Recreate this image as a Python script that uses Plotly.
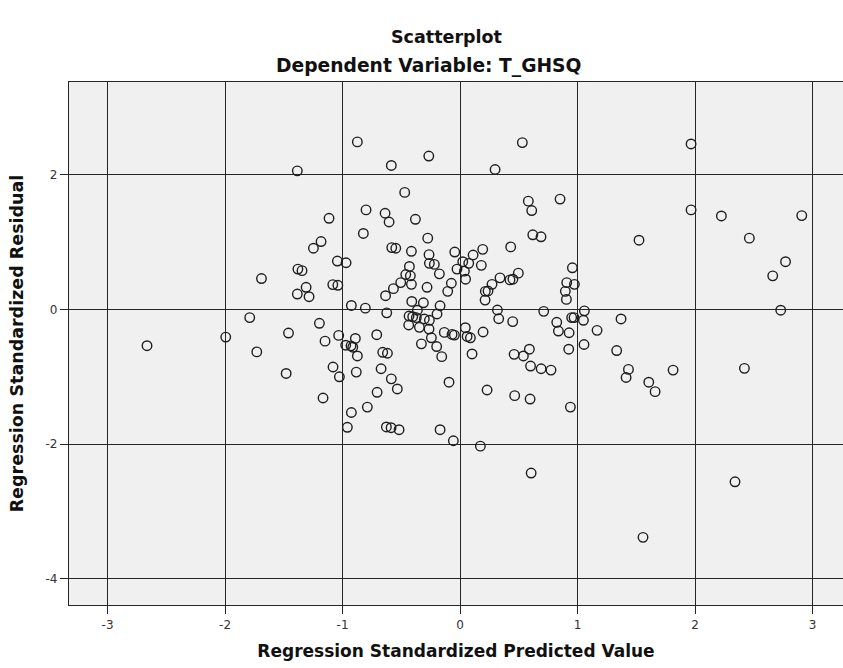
import plotly.graph_objects as go

# Regression standardized predicted values (x) and standardized residuals (y)
predicted = [
    -2.664, -1.994, -1.79, -1.69, -1.73, -1.46, -1.48, -1.38, -1.345, -1.385,
    -1.385, -1.31, -1.285, -1.248, -1.183, -1.115, -1.197, -1.149, -1.166, -1.081,
    -1.027, -1.083, -1.04, -1.044, -0.97, -1.033, -0.973, -0.928, -0.913, -0.891,
    -0.874, -0.883, -0.925, -0.959, -0.925, -0.874, -0.823, -0.80, -0.806, -0.789,
    -0.706, -0.709, -0.658, -0.618, -0.672, -0.585, -0.534, -0.627, -0.587, -0.519,
    -0.624, -0.634, -0.567, -0.505, -0.462, -0.423, -0.431, -0.414, -0.411, -0.638,
    -0.604, -0.581, -0.547, -0.585, -0.471, -0.414, -0.380, -0.266, -0.275, -0.264,
    -0.261, -0.219, -0.176, -0.281, -0.312, -0.17, -0.105, -0.074, -0.045, -0.026,
    0.023, 0.074, 0.111, 0.037, 0.047, 0.181, 0.193, 0.215, 0.238, 0.213,
    0.272, 0.34, 0.425, 0.45, 0.496, 0.431, 0.298, 0.530, 0.581, 0.610,
    0.619, 0.689, 0.851, 0.956, 0.908, 0.973, 0.896, 0.905, 1.058, 0.95,
    0.97, 1.05, 0.928, 1.166, 1.37, 1.055, 0.925, 1.333, 1.433, 1.413,
    1.606, 1.66, 1.813, 0.939, 1.523, 1.966, 1.966, 2.224, 2.908, 2.462,
    2.77, 2.661, 2.729, 2.42, 2.34, 1.557, -0.057, 0.173, 0.605, -0.17,
    -0.094, 0.23, 0.465, 0.596, 0.102, 0.196, 0.46, 0.539, 0.59, 0.60,
    0.69, 0.774, 0.448, 0.329, 0.318, 0.712, 0.823, 0.837, 0.045, 0.06,
    0.088, -0.134, -0.068, -0.048, -0.156, -0.199, -0.244, -0.264, -0.329, -0.346,
    -0.437, -0.434, -0.403, -0.372, -0.304, -0.261, -0.363, -0.196,
]
residual = [
    -0.538, -0.41, -0.12, 0.46, -0.63, -0.35, -0.95, 0.60, 0.577, 0.23,
    2.06, 0.33, 0.19, 0.91, 1.01, 1.355, -0.205, -0.47, -1.315, -0.854,
    -1.00, 0.37, 0.36, 0.72, 0.695, -0.385, -0.53, -0.54, -0.56, -0.43,
    -0.69, -0.93, -1.53, -1.75, 0.06, 2.49, 1.13, 1.48, 0.02, -1.45,
    -1.23, -0.374, -0.636, -0.65, -0.88, -1.03, -1.18, -1.745, -1.756, -1.786,
    -0.05, 0.205, 0.31, 0.40, 0.52, 0.50, 0.64, 0.374, 0.12, 1.43,
    1.30, 0.92, 0.91, 2.14, 1.74, 0.865, 1.34, 2.28, 1.06, 0.815,
    0.686, 0.67, 0.53, 0.33, 0.10, 0.056, 0.27, 0.39, 0.854, 0.60,
    0.71, 0.686, 0.81, 0.57, 0.45, 0.656, 0.894, 0.27, 0.275, 0.14,
    0.374, 0.47, 0.44, 0.45, 0.54, 0.93, 2.08, 2.48, 1.61, 1.47,
    1.11, 1.08, 1.64, 0.62, 0.40, 0.374, 0.27, 0.15, -0.02, -0.12,
    -0.12, -0.16, -0.345, -0.31, -0.14, -0.52, -0.59, -0.61, -0.89, -1.01,
    -1.08, -1.22, -0.90, -1.45, 1.03, 2.46, 1.48, 1.39, 1.395, 1.06,
    0.71, 0.50, -0.01, -0.874, -2.56, -3.385, -1.95, -2.03, -2.43, -1.786,
    -1.08, -1.196, -1.28, -1.33, -0.66, -0.334, -0.666, -0.69, -0.59, -0.84,
    -0.88, -0.90, -0.18, -0.137, -0.007, -0.027, -0.19, -0.32, -0.27, -0.40,
    -0.42, -0.34, -0.37, -0.38, -0.70, -0.55, -0.42, -0.29, -0.51, -0.265,
    -0.23, -0.097, -0.107, -0.12, -0.14, -0.16, -0.01, -0.067,
]

x_ticks = [-3, -2, -1, 0, 1, 2, 3]
x_tick_labels = ["-3", "-2", "-1", "0", "1", "2", "3"]
y_ticks = [-4, -2, 0, 2]
y_tick_labels = ["-4", "-2", "0", "2"]

chart_title = "Scatterplot"
subtitle = "Dependent Variable: T_GHSQ"
x_title = "Regression Standardized Predicted Value"
y_title = "Regression Standardized Residual"

INK = "#262626"
W, H = 843, 668
M_L, M_R, M_T, M_B = 69, 0, 82, 63
PLOT_W = W - M_L - M_R
PLOT_H = H - M_T - M_B


def bold(s):
    return f"<b>{s}</b>"


def font(size):
    return dict(family="DejaVu Sans", size=size, color="#111111")


fig = go.Figure(
    go.Scatter(
        x=predicted,
        y=residual,
        mode="markers",
        marker=dict(
            symbol="circle-open",
            size=9.5,
            color="#1e1e1e",
            line=dict(width=1.4, color="#1e1e1e"),
        ),
        hoverinfo="x+y",
    )
)

axis_common = dict(
    showgrid=True,
    gridcolor=INK,
    gridwidth=1.4,
    zeroline=True,
    zerolinecolor=INK,
    zerolinewidth=1.4,
    showline=True,
    linecolor=INK,
    linewidth=1.2,
    mirror=True,
    ticks="outside",
    ticklen=8,
    tickwidth=1.2,
    tickcolor=INK,
    tickfont=dict(family="DejaVu Sans", size=12, color="#333333"),
)

fig.update_layout(
    width=W,
    height=H,
    margin=dict(l=M_L, r=M_R, t=M_T, b=M_B),
    paper_bgcolor="white",
    plot_bgcolor="#f0f0f0",
    showlegend=False,
    xaxis=dict(
        range=[-3.328, 3.259],
        tickvals=x_ticks,
        ticktext=x_tick_labels,
        title=dict(text=bold(x_title), font=font(17), standoff=14),
        **axis_common,
    ),
    yaxis=dict(
        range=[-4.39, 3.38],
        tickvals=y_ticks,
        ticktext=y_tick_labels,
        title=dict(text=bold(y_title), font=font(17.5), standoff=17),
        **axis_common,
    ),
)

# Two heading lines above the plotting area, positioned in pixels
headings = [(chart_title, 17.5, 446, 37), (subtitle, 18.7, 428, 66)]
for text, size, cx, cy in headings:
    fig.add_annotation(
        text=bold(text),
        x=(cx - M_L) / PLOT_W, xref="paper", xanchor="center",
        y=1 + (M_T - cy) / PLOT_H, yref="paper", yanchor="middle",
        showarrow=False, font=font(size),
    )

fig.write_html("out.html")
